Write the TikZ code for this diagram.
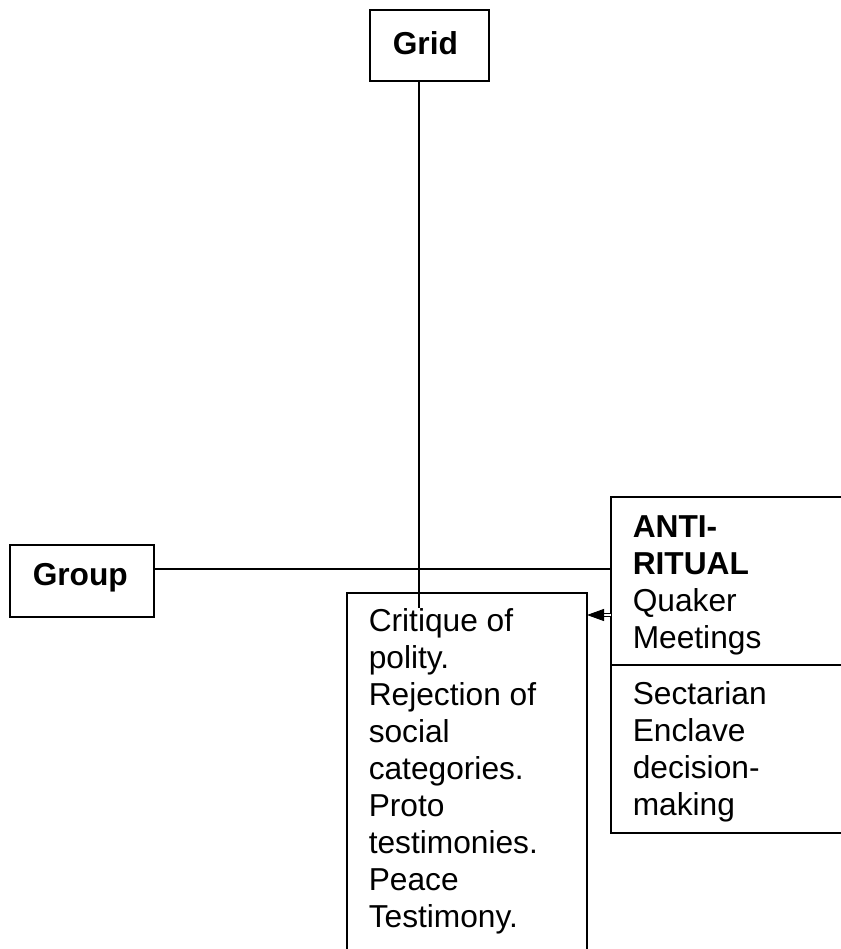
\documentclass[tikz,border=0pt]{standalone}
\usepackage{fontspec}
\setmainfont{Liberation Sans}
\usetikzlibrary{arrows.meta}
\begin{document}
\begin{tikzpicture}[x=1pt,y=-1pt,line width=1.5pt,
  frame/.style={anchor=north west,inner sep=0pt,outer sep=0pt},
  lbl/.style={anchor=base west,inner sep=0pt,align=left,
    font=\fontsize{31.7}{37}\selectfont}]
\useasboundingbox (0,0) rectangle (840,949);

% boxes
\node[frame,draw,minimum width=119pt,minimum height=71pt] (grid) at (370,10) {};
\node[frame,draw,minimum width=144pt,minimum height=72pt] (group) at (10,545) {};
\node[frame,minimum width=240pt,minimum height=370pt] (crit) at (347,593) {};
\node[frame,minimum width=240pt,minimum height=336pt] (anti) at (611,497) {};

% open-ended outlines
\draw (crit.south west) -- (crit.north west) -- (crit.north east) -- (crit.south east);
\draw (anti.north east) -- (anti.north west) -- (anti.south west) -- (anti.south east);
\draw (anti.west |- 0,665) -- (anti.east |- 0,665);

% axes
\coordinate (gridend) at (419,608);
\draw (gridend |- grid.south) -- (gridend);
\draw (group.east |- 0,569) -- (anti.west |- 0,569);

% arrow from the anti-ritual box
\draw[line width=0.9pt,double,double distance=1.8pt,
  -{Triangle[length=17pt,width=12pt]}] (anti.west |- 0,615) -- (crit.east |- 0,615);

% labels (anchored at the baseline of their last line)
\node[lbl] (gridtxt) at (392,55) {\bfseries Grid};
\node[lbl] (grouptxt) at (32,585) {\bfseries Group};
\node[lbl] (antitxt) at (632,648) {\bfseries ANTI-\\\bfseries RITUAL\\Quaker\\Meetings};
\node[lbl] (secttxt) at (632,815) {Sectarian\\Enclave\\decision-\\making};
\node[lbl] (crittxt) at (368,927) {Critique of\\polity.\\Rejection of\\social\\categories.\\Proto\\testimonies.\\Peace\\Testimony.};
\end{tikzpicture}
\end{document}
